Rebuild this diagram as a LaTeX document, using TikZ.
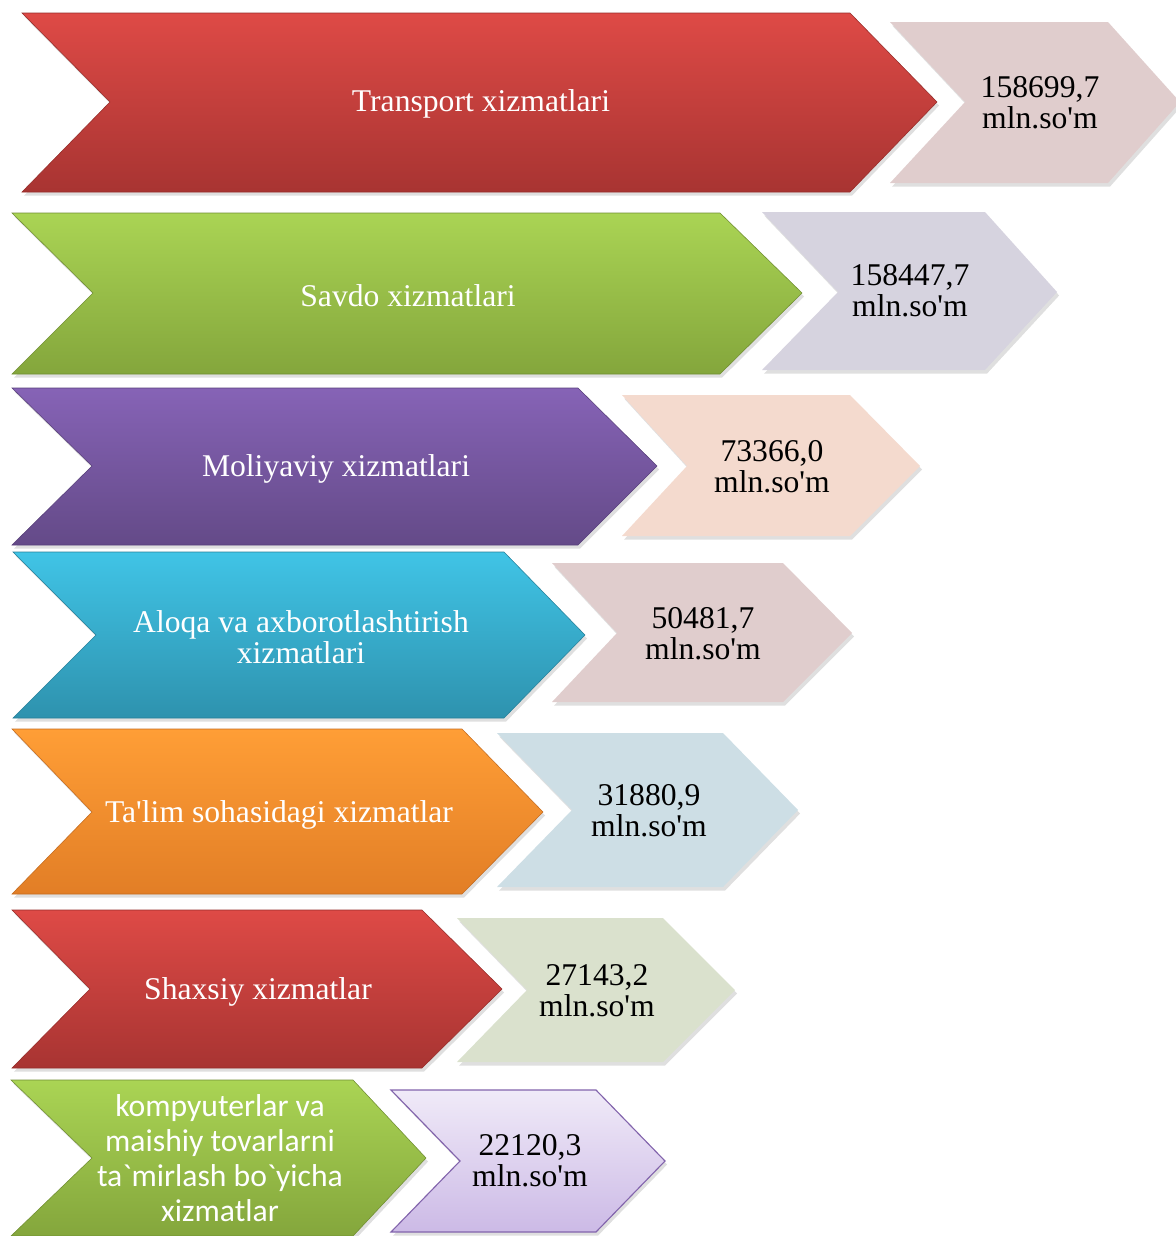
\documentclass[tikz,border=0pt]{standalone}
\usepackage{fontspec}
\setmainfont{Liberation Serif}
\newfontfamily\calibrifont{Carlito}
\usetikzlibrary{shadows}
\definecolor{redtop}{RGB}{222,74,70}
\definecolor{redbot}{RGB}{168,52,50}
\definecolor{redline}{RGB}{150,45,42}
\definecolor{greentop}{RGB}{170,212,84}
\definecolor{greenbot}{RGB}{132,166,60}
\definecolor{greenline}{RGB}{112,142,50}
\definecolor{purpletop}{RGB}{134,99,182}
\definecolor{purplebot}{RGB}{100,74,136}
\definecolor{purpleline}{RGB}{88,64,122}
\definecolor{cyantop}{RGB}{64,196,230}
\definecolor{cyanbot}{RGB}{46,146,174}
\definecolor{cyanline}{RGB}{38,128,154}
\definecolor{orangetop}{RGB}{255,158,54}
\definecolor{orangebot}{RGB}{226,126,38}
\definecolor{orangeline}{RGB}{196,108,32}
\definecolor{valA}{RGB}{224,205,205}
\definecolor{valB}{RGB}{214,211,223}
\definecolor{valC}{RGB}{244,218,206}
\definecolor{valD}{RGB}{205,222,229}
\definecolor{valE}{RGB}{218,225,205}
\definecolor{valFtop}{RGB}{240,234,248}
\definecolor{valFbot}{RGB}{204,186,230}
\definecolor{valFline}{RGB}{130,100,172}

\begin{document}
\begin{tikzpicture}[x=0.025cm, y=-0.025cm]
            \tikzstyle{arrow} = [drop shadow={shadow xshift=1.5pt, shadow yshift=-2.5pt, opacity=0.25}]
            \tikzstyle{redarrow} = [arrow, draw=redline, thin, top color=redtop, bottom color=redbot]
            \tikzstyle{greenarrow} = [arrow, draw=greenline, thin, top color=greentop, bottom color=greenbot]
            \tikzstyle{purplearrow} = [arrow, draw=purpleline, thin, top color=purpletop, bottom color=purplebot]
            \tikzstyle{cyanarrow} = [arrow, draw=cyanline, thin, top color=cyantop, bottom color=cyanbot]
            \tikzstyle{orangearrow} = [arrow, draw=orangeline, thin, top color=orangetop, bottom color=orangebot]
            \tikzstyle{valarrow} = [arrow, draw=none]
            \tikzstyle{label} = [text=white, align=center, font=\fontsize{22.5}{22}\selectfont]
            \tikzstyle{value} = [text=black, align=center, font=\fontsize{22.5}{22}\selectfont]
            \useasboundingbox (0, 0) rectangle (1176, 1236);
            \clip (0, 0) rectangle (1176, 1236);
            \shadedraw[redarrow] (22, 13) -- (850, 13) -- (937, 102) -- (850, 192) -- (22, 192) -- (110, 102) -- cycle;
            \fill[valarrow, valA] (890, 22) -- (1108, 22) -- (1180, 102) -- (1108, 183) -- (890, 183) -- (965, 102) -- cycle;
            \shadedraw[greenarrow] (12, 213) -- (720, 213) -- (802, 293) -- (720, 374) -- (12, 374) -- (93, 293) -- cycle;
            \fill[valarrow, valB] (762, 212) -- (985, 212) -- (1057, 292) -- (985, 370) -- (762, 370) -- (838, 292) -- cycle;
            \shadedraw[purplearrow] (12, 388) -- (578, 388) -- (657, 466) -- (578, 545) -- (12, 545) -- (92, 466) -- cycle;
            \fill[valarrow, valC] (622, 395) -- (850, 395) -- (920, 466) -- (850, 536) -- (622, 536) -- (687, 466) -- cycle;
            \shadedraw[cyanarrow] (13, 552) -- (504, 552) -- (585, 635) -- (504, 718) -- (13, 718) -- (96, 635) -- cycle;
            \fill[valarrow, valA] (552, 563) -- (783, 563) -- (852, 633) -- (783, 702) -- (552, 702) -- (617, 633) -- cycle;
            \shadedraw[orangearrow] (12, 729) -- (462, 729) -- (543, 812) -- (462, 894) -- (12, 894) -- (92, 812) -- cycle;
            \fill[valarrow, valD] (497, 733) -- (723, 733) -- (798, 810) -- (723, 887) -- (497, 887) -- (572, 810) -- cycle;
            \shadedraw[redarrow] (12, 910) -- (422, 910) -- (502, 989) -- (422, 1068) -- (12, 1068) -- (90, 989) -- cycle;
            \fill[valarrow, valE] (457, 918) -- (663, 918) -- (735, 990) -- (663, 1062) -- (457, 1062) -- (527, 990) -- cycle;
            \shadedraw[greenarrow] (11, 1080) -- (353, 1080) -- (426, 1158) -- (353, 1236) -- (11, 1236) -- (92, 1158) -- cycle;
            \shadedraw[arrow, draw=valFline, thick, top color=valFtop, bottom color=valFbot] (391, 1090) -- (596, 1090) -- (665, 1161) -- (596, 1232) -- (391, 1232) -- (460, 1161) -- cycle;
            \node[label] (transport) at (481, 104) {Transport xizmatlari};
            \node[value] (transportval) at (1040, 103) {158699,7\\mln.so\textquotesingle m};
            \node[label] (savdo) at (408, 296) {Savdo xizmatlari};
            \node[value] (savdoval) at (910, 291) {158447,7\\mln.so\textquotesingle m};
            \node[label] (moliya) at (336, 469) {Moliyaviy xizmatlari};
            \node[value] (moliyaval) at (772, 467) {73366,0\\mln.so\textquotesingle m};
            \node[label] (aloqa) at (301, 637) {Aloqa va axborotlashtirish\\xizmatlari};
            \node[value] (aloqaval) at (703, 634) {50481,7\\mln.so\textquotesingle m};
            \node[label] (talim) at (279, 815) {Ta\textquotesingle lim sohasidagi xizmatlar};
            \node[value] (talimval) at (649, 811) {31880,9\\mln.so\textquotesingle m};
            \node[label] (shaxsiy) at (258, 992) {Shaxsiy xizmatlar};
            \node[value] (shaxsiyval) at (597, 991) {27143,2\\mln.so\textquotesingle m};
            \node[label, font=\calibrifont\fontsize{22.5}{25}\selectfont] (tamir) at (220, 1158) {kompyuterlar va\\maishiy tovarlarni\\ta\textasciigrave mirlash bo\textasciigrave yicha\\xizmatlar};
            \node[value] (tamirval) at (530, 1161) {22120,3\\mln.so\textquotesingle m};
        \end{tikzpicture}
\end{document}
